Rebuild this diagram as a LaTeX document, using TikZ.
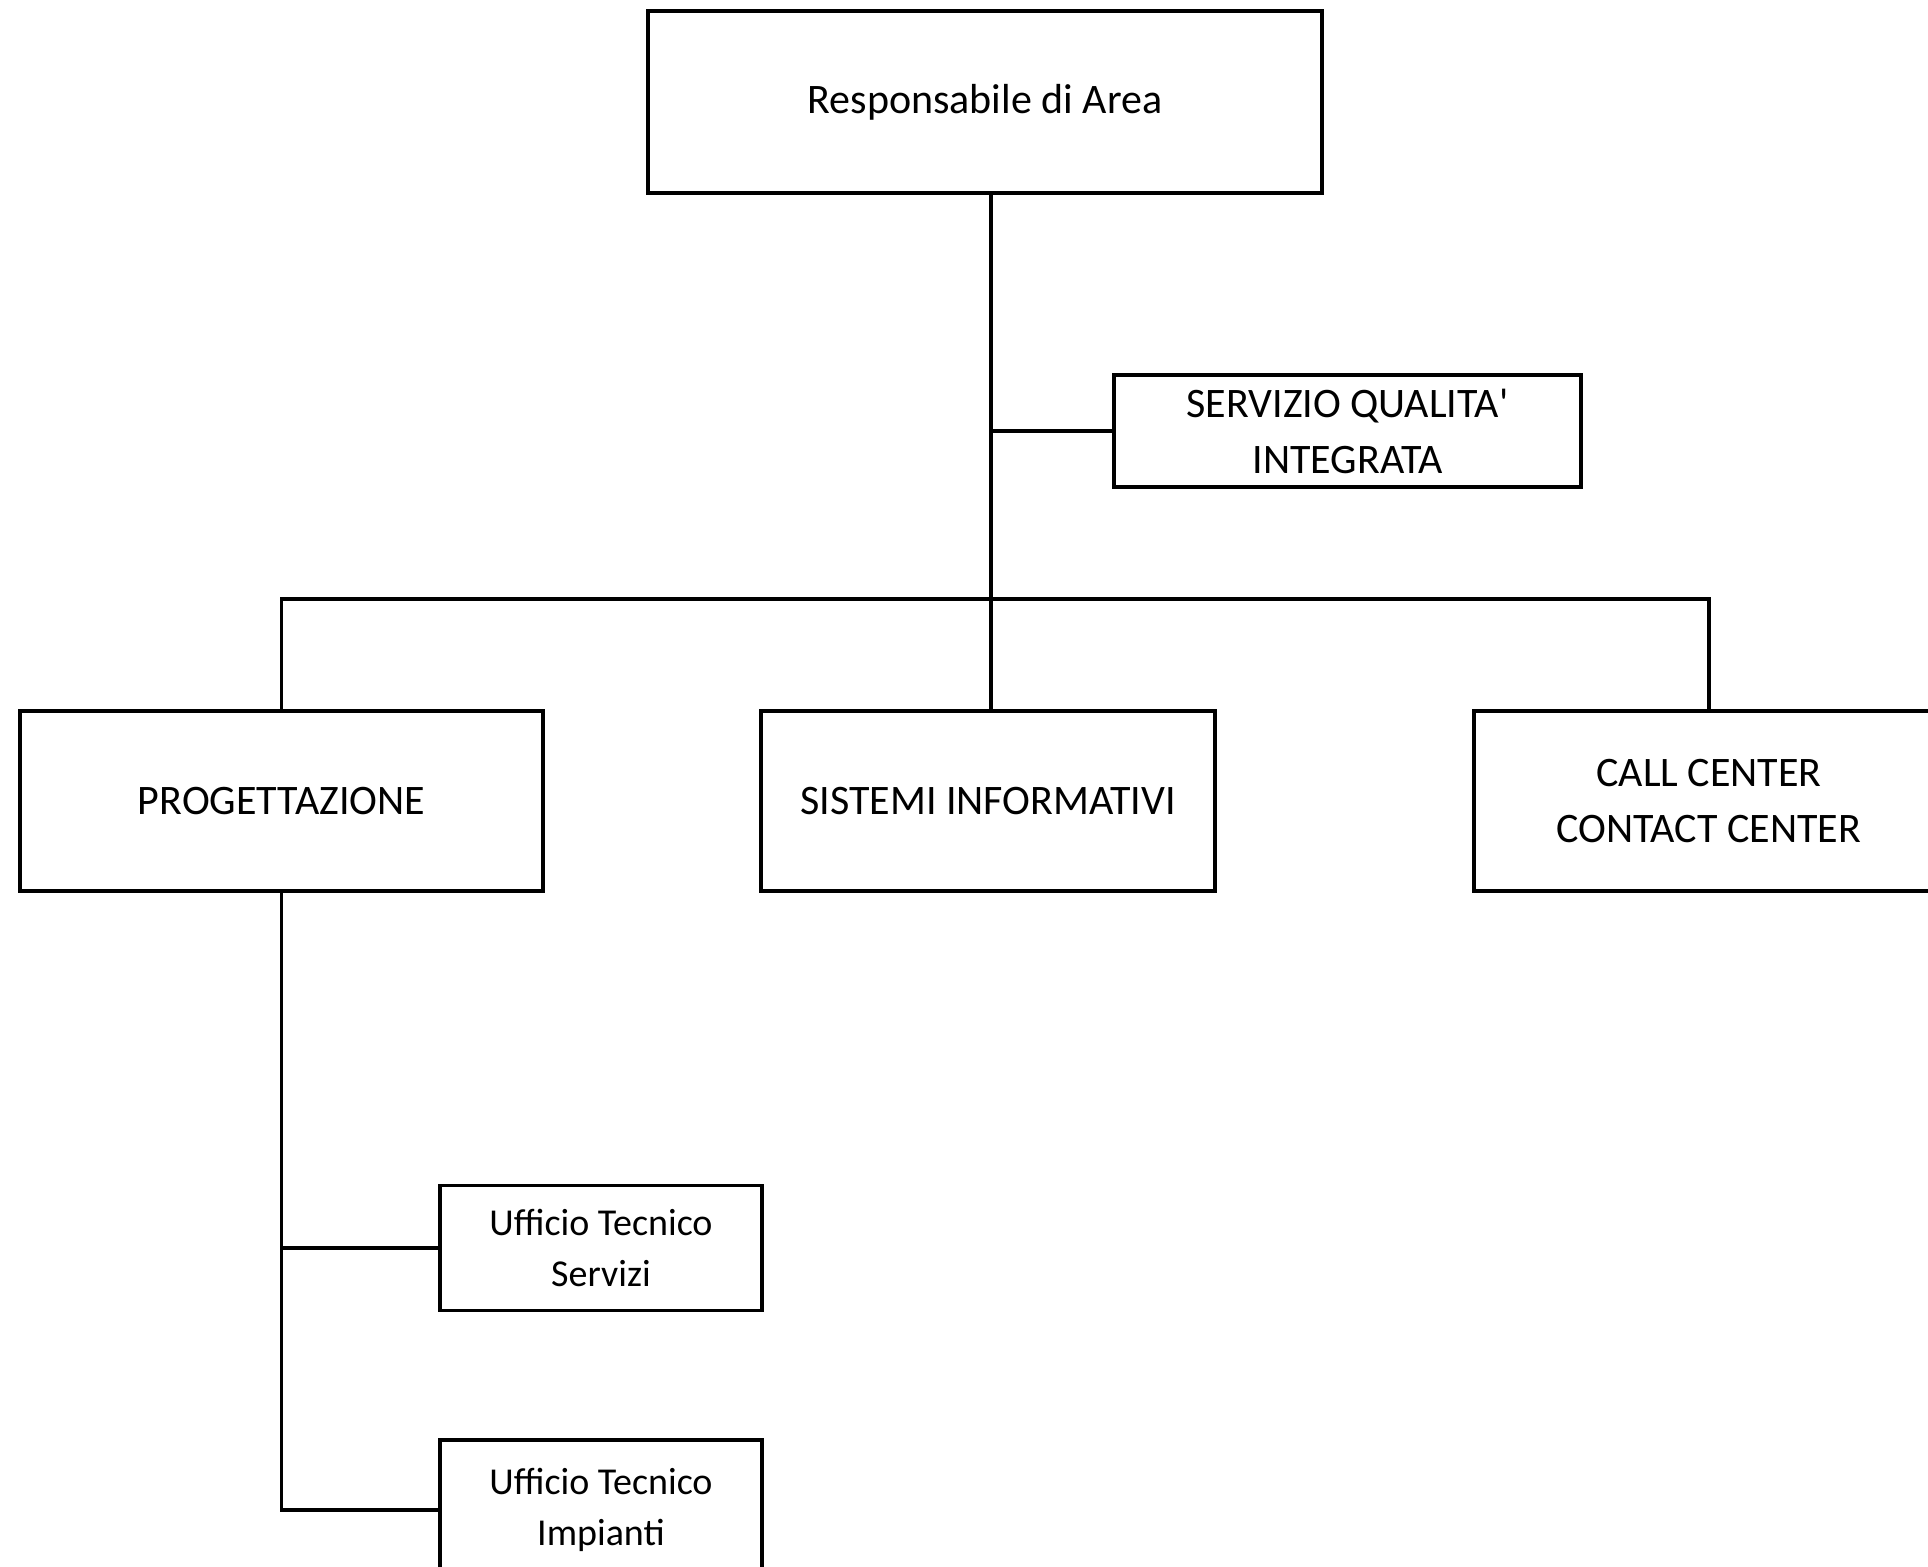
\documentclass[tikz,border=0pt]{standalone}
\usepackage{fontspec}
\setmainfont{Carlito}
\usetikzlibrary{calc}
\begin{document}
\begin{tikzpicture}[x=0.5pt,y=-0.5pt,
  boxnode/.style={draw=black,line width=1.9pt,inner sep=0pt,align=center,font=\fontsize{21}{28}\selectfont},
  smallbox/.style={boxnode,font=\fontsize{19}{25.2}\selectfont},
  wire/.style={line width=1.9pt,line cap=rect}]
\useasboundingbox (0,0) rectangle (1928,1567);
\clip (0,0) rectangle (1928,1567);
\node[boxnode,minimum width=674*0.5pt,minimum height=182*0.5pt] (top) at (985,102) {Responsabile di Area};
\node[boxnode,minimum width=467*0.5pt,minimum height=112*0.5pt] (sq) at (1347.5,431) {SERVIZIO QUALITA\textquotesingle\\INTEGRATA};
\node[boxnode,minimum width=523*0.5pt,minimum height=180*0.5pt] (prog) at (281.5,801) {PROGETTAZIONE};
\node[boxnode,minimum width=454*0.5pt,minimum height=180*0.5pt] (sis) at (988,801) {SISTEMI INFORMATIVI};
\node[boxnode,minimum width=470*0.5pt,minimum height=180*0.5pt] (call) at (1709,801) {CALL CENTER\\CONTACT CENTER};
\node[smallbox,minimum width=322*0.5pt,minimum height=125*0.5pt] (uts) at (601,1248) {Ufficio Tecnico\\Servizi};
\node[smallbox,minimum width=322*0.5pt,minimum height=140*0.5pt] (uti) at (601,1510) {Ufficio Tecnico\\Impianti};
\coordinate (bus) at (991,599);
\draw[wire] (top.south -| bus) -- (sis.north -| bus);
\draw[wire] (sq.west) -- (sq.west -| bus);
\draw[wire] (prog.north) -- (prog.north |- bus) -- (call.north |- bus) -- (call.north);
\draw[wire] (prog.south) -- (prog.south |- uti.west) -- (uti.west);
\draw[wire] (prog.south |- uts.west) -- (uts.west);
\end{tikzpicture}
\end{document}
